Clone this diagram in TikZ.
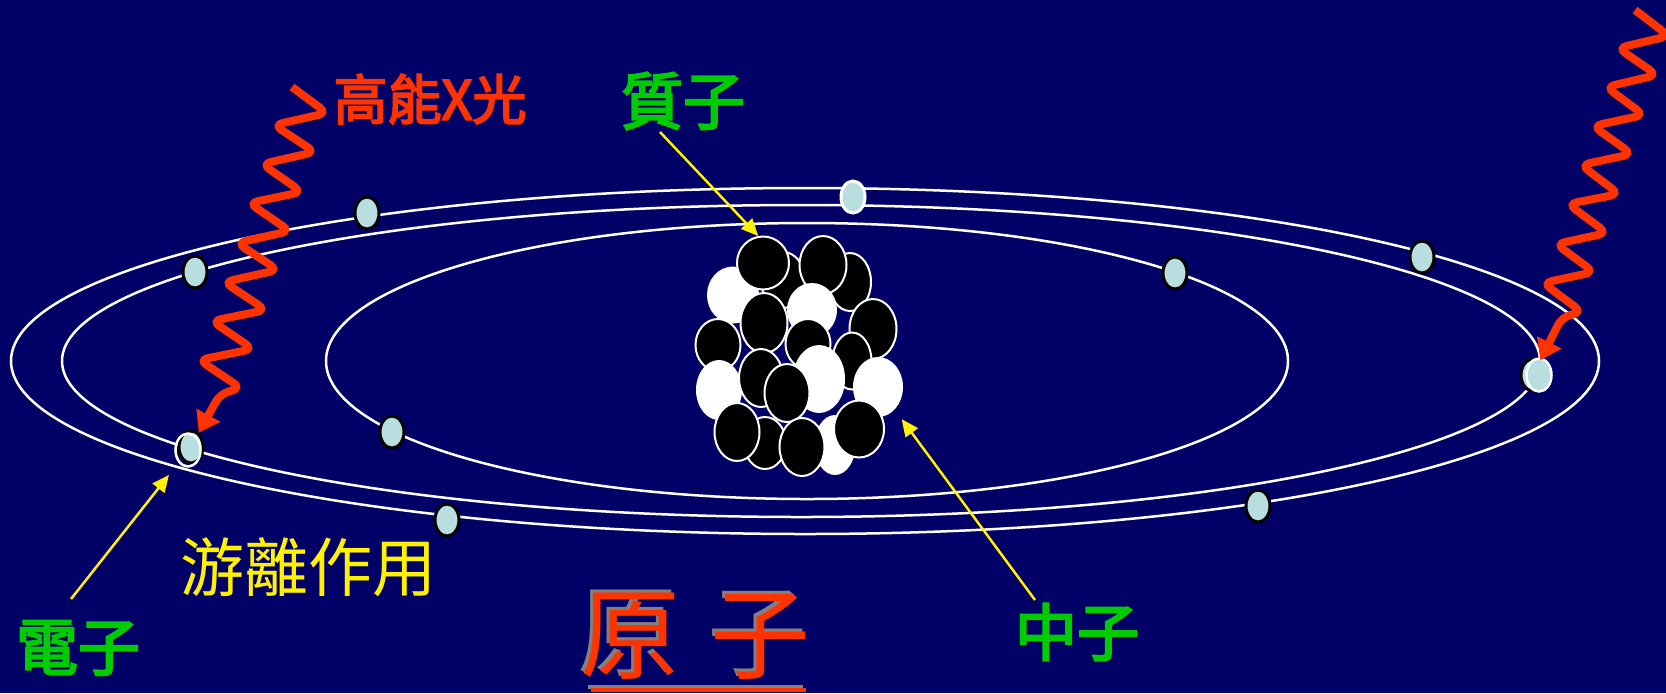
\documentclass[tikz,border=0pt]{standalone}
\usepackage{fontspec}
\newfontfamily\cjk{Noto Sans CJK TC}
\newfontfamily\cjkheavy{Noto Sans CJK TC}[FakeBold=3.5]
\usetikzlibrary{shapes.geometric,arrows.meta}

\newlength{\du}
\setlength{\du}{0.5pt}

\definecolor{atombg}{rgb}{0.000000, 0.000000, 0.400000}
\definecolor{xrayred}{rgb}{1.000000, 0.200000, 0.000000}
\definecolor{labelgreen}{rgb}{0.000000, 0.800000, 0.000000}
\definecolor{elecfill}{rgb}{0.725000, 0.870000, 0.880000}
\definecolor{shadowgray}{rgb}{0.500000, 0.500000, 0.500000}

% tip sizes in pt (1\du = 0.5pt)
\tikzset{
  orbit/.style={draw=white, line width=2.5\du},
  electron/.style={ellipse, draw=black, fill=elecfill, line width=3\du,
    minimum width=24\du, minimum height=32\du, inner sep=0pt},
  hitring/.style={ellipse, draw=white, line width=2.5\du,
    minimum width=25\du, minimum height=33\du, inner sep=0pt},
  proton/.style={ellipse, draw=white, fill=black, line width=2\du, inner sep=0pt},
  neutron/.style={proton, fill=white},
  photon/.style={draw=xrayred, line width=8\du, rounded corners=4.5pt,
    -{Triangle[length=10pt,width=13pt]}},
  pointer/.style={draw=yellow, line width=2.5\du,
    -{Triangle[length=8.5pt,width=7.5pt]}},
  greenlabel/.style={text=labelgreen, inner sep=0pt,
    font=\cjkheavy\fontsize{31pt}{31pt}\selectfont},
  titletext/.style={inner sep=0pt, font=\cjk\fontsize{50pt}{50pt}\selectfont},
}

\begin{document}
\begin{tikzpicture}
\pgftransformxscale{1.000000}
\pgftransformyscale{-1.000000}
\useasboundingbox (0.000000\du,0.000000\du) rectangle (1666.000000\du,693.000000\du);
\fill[atombg] (0.000000\du,0.000000\du) rectangle (1666.000000\du,693.000000\du);

% orbits
\draw[orbit] (805.000000\du,361.000000\du) ellipse [x radius=794.000000\du, y radius=173.000000\du];
\draw[orbit] (801.000000\du,361.000000\du) ellipse [x radius=739.000000\du, y radius=156.000000\du];
\draw[orbit] (807.000000\du,361.000000\du) ellipse [x radius=481.000000\du, y radius=138.000000\du];

% electrons
\node[electron] (e1) at (367.000000\du,213.000000\du) {};
\node[electron] (e2) at (195.000000\du,272.000000\du) {};
\node[electron, draw=white] (e3) at (853.000000\du,197.000000\du) {};
\node[electron] (e4) at (1175.000000\du,273.000000\du) {};
\node[electron] (e5) at (1422.000000\du,257.000000\du) {};
\node[electron] (e6) at (392.000000\du,432.000000\du) {};
\node[electron] (e7) at (447.000000\du,520.000000\du) {};
\node[electron] (e8) at (1258.000000\du,506.000000\du) {};
\node[electron] (eL) at (191.000000\du,447.000000\du) {};
\node[hitring] (ringL) at (188.000000\du,450.000000\du) {};
\node[electron] (eR) at (1533.000000\du,375.000000\du) {};
\node[hitring, fill=elecfill] (ringR) at (1539.000000\du,375.000000\du) {};

% nucleus, back to front
\node[proton, minimum width=44\du, minimum height=56\du] (pA) at (783.000000\du,280.000000\du) {};
\node[neutron, minimum width=50\du, minimum height=55\du] (nA) at (733.000000\du,295.000000\du) {};
\node[proton, minimum width=42\du, minimum height=58\du] (pC) at (850.000000\du,282.000000\du) {};
\node[proton, minimum width=52\du, minimum height=53\du] (pB) at (763.000000\du,263.000000\du) {};
\node[proton, minimum width=47\du, minimum height=58\du] (pD) at (823.000000\du,265.000000\du) {};
\node[proton, minimum width=47\du, minimum height=60\du] (pE) at (764.000000\du,323.000000\du) {};
\node[neutron, minimum width=48\du, minimum height=52\du] (nF) at (812.000000\du,310.000000\du) {};
\node[proton, minimum width=47\du, minimum height=60\du] (pG) at (873.000000\du,329.000000\du) {};
\node[proton, minimum width=45\du, minimum height=52\du] (pH) at (718.000000\du,345.000000\du) {};
\node[proton, minimum width=45\du, minimum height=50\du] (pI) at (808.000000\du,344.000000\du) {};
\node[proton, minimum width=39\du, minimum height=57\du] (pJ) at (852.000000\du,361.000000\du) {};
\node[neutron, minimum width=44\du, minimum height=58\du] (nK) at (719.000000\du,390.000000\du) {};
\node[proton, minimum width=44\du, minimum height=58\du] (pL) at (761.000000\du,378.000000\du) {};
\node[neutron, minimum width=50\du, minimum height=66\du] (nM) at (819.000000\du,379.000000\du) {};
\node[neutron, minimum width=48\du, minimum height=58\du] (nN) at (878.000000\du,387.000000\du) {};
\node[proton, minimum width=42\du, minimum height=52\du] (pP) at (765.000000\du,443.000000\du) {};
\node[neutron, minimum width=39\du, minimum height=58\du] (nQ) at (835.000000\du,445.000000\du) {};
\node[proton, minimum width=45\du, minimum height=58\du] (pO) at (787.000000\du,393.000000\du) {};
\node[proton, minimum width=45\du, minimum height=58\du] (pR) at (737.000000\du,432.000000\du) {};
\node[proton, minimum width=45\du, minimum height=58\du] (pS) at (802.000000\du,447.000000\du) {};
\node[proton, minimum width=50\du, minimum height=57\du] (pT) at (859.000000\du,429.000000\du) {};

% x-ray photons
\coordinate (xrayL) at (292.000000\du,87.000000\du);
\coordinate (xrayR) at (1635.000000\du,10.000000\du);
\draw[photon] (xrayL)--(327.000000\du,113.000000\du)--(274.000000\du,125.000000\du)
  --(315.000000\du,152.000000\du)--(262.000000\du,164.000000\du)
  --(302.000000\du,192.000000\du)--(249.000000\du,203.000000\du)
  --(290.000000\du,231.000000\du)--(237.000000\du,243.000000\du)
  --(278.000000\du,270.000000\du)--(224.000000\du,282.000000\du)
  --(266.000000\du,310.000000\du)--(212.000000\du,321.000000\du)
  --(253.000000\du,349.000000\du)--(199.000000\du,360.000000\du)
  --(241.000000\du,388.000000\du)--(220.000000\du,394.000000\du)--(eL);
\draw[photon] (xrayR)--(1669.000000\du,36.000000\du)--(1618.000000\du,48.000000\du)
  --(1657.000000\du,75.000000\du)--(1606.000000\du,87.000000\du)
  --(1644.000000\du,115.000000\du)--(1593.000000\du,126.000000\du)
  --(1632.000000\du,154.000000\du)--(1581.000000\du,165.000000\du)
  --(1619.000000\du,194.000000\du)--(1568.000000\du,204.000000\du)
  --(1607.000000\du,233.000000\du)--(1556.000000\du,244.000000\du)
  --(1594.000000\du,272.000000\du)--(1543.000000\du,283.000000\du)
  --(1582.000000\du,312.000000\du)--(1562.000000\du,317.000000\du)--(eR);

% labels
\node[text=xrayred, inner sep=0pt, font=\cjkheavy\fontsize{27pt}{27pt}\selectfont] (lblXray) at (430.000000\du,99.000000\du) {高能X光};
\node[greenlabel] (lblProton) at (683.000000\du,101.000000\du) {質子};
\node[greenlabel] (lblElectron) at (78.000000\du,648.000000\du) {電子};
\node[greenlabel] (lblNeutron) at (1077.000000\du,632.000000\du) {中子};
\node[text=yellow, inner sep=0pt, font=\cjk\fontsize{32pt}{32pt}\selectfont] (lblIon) at (308.000000\du,567.000000\du) {游離作用};

% pointers
\coordinate (protonTail) at (660.000000\du,132.000000\du);
\coordinate (neutronTail) at (1035.000000\du,600.000000\du);
\coordinate (electronTail) at (71.000000\du,599.000000\du);
\draw[pointer] (protonTail) -- (pB.100);
\draw[pointer, shorten >=6pt] (neutronTail) -- (nN);
\draw[pointer, shorten >=10pt] (electronTail) -- (eL);

% title with shadow
\node[titletext, text=shadowgray] (titleShadow) at (692.000000\du,633.000000\du) {原\hspace{15pt}子};
\node[titletext, text=xrayred] (title) at (695.000000\du,636.000000\du) {原\hspace{15pt}子};
\draw[line width=4\du, shadowgray] (588.000000\du,687.000000\du)--(803.000000\du,687.000000\du);
\draw[line width=4\du, xrayred] (591.000000\du,690.000000\du)--(806.000000\du,690.000000\du);
\end{tikzpicture}
\end{document}
